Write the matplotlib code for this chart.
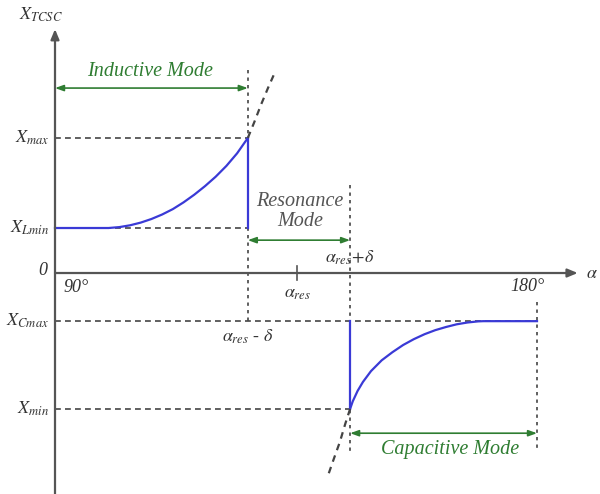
import matplotlib
matplotlib.use("Agg")
import matplotlib.pyplot as plt

plt.rcParams['mathtext.fontset'] = 'stix'
plt.rcParams['font.family'] = ['Liberation Serif', 'DejaVu Serif']

# --- key values (angle in degrees, reactance in arbitrary units) ---
alpha_start = 90
alpha_end = 180
alpha_res = 135.2
alpha_low = 126.0      # alpha_res - delta
alpha_high = 145.1     # alpha_res + delta
X_max = 3.0
X_Lmin = 1.0
X_Cmax = -1.07
X_min = -3.02

# inductive branch
ind_alpha = [90, 100, 102, 104, 106, 108, 110, 112, 114, 116, 118, 120, 122, 124, 126]
ind_X = [1.0, 1.0, 1.02, 1.06, 1.12, 1.2, 1.3, 1.42, 1.57, 1.74, 1.93, 2.14, 2.38, 2.66, 3.0]
ind_dash_alpha = [126, 127.2, 128.5, 129.8, 131.1]
ind_dash_X = [3.0, 3.35, 3.75, 4.12, 4.47]

# capacitive branch
cap_alpha = [145.1, 145.6, 146.5, 147.5, 149, 151, 153, 155, 157, 159, 161, 163, 165, 167, 169, 170, 180]
cap_X = [-3.02, -2.85, -2.62, -2.42, -2.18, -1.94, -1.76, -1.6, -1.47, -1.36, -1.27,
         -1.2, -1.14, -1.1, -1.075, -1.07, -1.07]
cap_dash_alpha = [145.1, 144.2, 143.2, 142.0, 140.8]
cap_dash_X = [-3.02, -3.35, -3.75, -4.15, -4.56]

fig = plt.figure(figsize=(6.0, 4.94), dpi=100)
ax = fig.add_axes([0, 0, 1, 1])
ax.set_xlim(79.73, 191.76)
ax.set_ylim(-4.911, 6.067)
ax.axis('off')

axis_col = '#555555'
dash_col = '#444444'
blue = '#3a3ad6'
green = '#2f7d32'
dash = dict(color=dash_col, lw=1.2, linestyle=(0, (3.5, 2.5)))
vdash = dict(color=dash_col, lw=1.2, linestyle=(0, (2, 2.5)))

# axes with arrows
ax.annotate('', xy=(alpha_start, 5.42), xytext=(alpha_start, -4.911),
            arrowprops=dict(arrowstyle='-|>,head_width=0.25,head_length=0.6',
                            color=axis_col, lw=1.6, shrinkA=0, shrinkB=0))
ax.annotate('', xy=(187.6, 0), xytext=(alpha_start, 0),
            arrowprops=dict(arrowstyle='-|>,head_width=0.25,head_length=0.6',
                            color=axis_col, lw=1.6, shrinkA=0, shrinkB=0))
# alpha_res tick
ax.plot([alpha_res, alpha_res], [-0.16, 0.16], color=axis_col, lw=1.2)

# dashed guide lines
ax.plot([alpha_start, alpha_low], [X_max, X_max], **dash)
ax.plot([alpha_start, alpha_low], [X_Lmin, X_Lmin], **dash)
ax.plot([alpha_start, alpha_end], [X_Cmax, X_Cmax], **dash)
ax.plot([alpha_start, alpha_high], [X_min, X_min], **dash)
ax.plot([alpha_low, alpha_low], [4.51, -1.11], **vdash)
ax.plot([alpha_high, alpha_high], [1.96, -3.98], **vdash)
ax.plot([alpha_end, alpha_end], [-0.64, -3.98], **vdash)

# curves
ax.plot(ind_alpha, ind_X, color=blue, lw=1.6, solid_joinstyle='round')
ax.plot([alpha_low, alpha_low], [X_max, X_Lmin], color=blue, lw=1.6)
ax.plot(ind_dash_alpha, ind_dash_X, color=dash_col, lw=1.6, linestyle=(0, (3, 2.5)))
ax.plot(cap_alpha, cap_X, color=blue, lw=1.6, solid_joinstyle='round')
ax.plot([alpha_high, alpha_high], [X_Cmax, X_min], color=blue, lw=1.6)
ax.plot(cap_dash_alpha, cap_dash_X, color=dash_col, lw=1.6, linestyle=(0, (3, 2.5)))

# mode arrows
def darrow(x0, x1, y, col):
    ax.annotate('', xy=(x1, y), xytext=(x0, y),
                arrowprops=dict(arrowstyle='<|-|>,head_width=0.18,head_length=0.5',
                                color=col, lw=1.2, shrinkA=0, shrinkB=0))

darrow(alpha_start, alpha_low, 4.11, green)
darrow(alpha_low, alpha_high, 0.73, green)
darrow(alpha_high, alpha_end, -3.56, green)

ax.text(107.7, 4.47, 'Inductive Mode', color=green, fontsize=14.5, style='italic',
        ha='center', va='center')
ax.text(135.7, 1.36, 'Resonance\nMode', color='#555555', fontsize=14.5, style='italic',
        ha='center', va='center', linespacing=1.05)
ax.text(163.7, -3.93, 'Capacitive Mode', color=green, fontsize=14.5, style='italic',
        ha='center', va='center')

# axis labels
lab = dict(color='#333333', fontsize=13)
ax.text(87.4, 5.73, r'$X_{TCSC}$', ha='center', va='center', **lab)
ax.text(88.6, 0.05, '0', ha='right', va='center', style='italic', **lab)
ax.text(93.9, -0.33, '90°', ha='center', va='center', style='italic', **lab)
ax.text(190.3, 0.0, r'$\alpha$', ha='center', va='center', **lab)
ax.text(178.3, -0.29, '180°', ha='center', va='center', style='italic', **lab)
ax.text(alpha_res, -0.46, r'$\alpha_{res}$', ha='center', va='center', **lab)
ax.text(alpha_low, -1.42, r'$\alpha_{res}$ - $\delta$', ha='center', va='center', **lab)
ax.text(alpha_high, 0.33, r'$\alpha_{res}\!+\!\delta$', ha='center', va='center', **lab)

ax.text(88.9, X_max, r'$X_{max}$', ha='right', va='center', **lab)
ax.text(88.9, X_Lmin, r'$X_{Lmin}$', ha='right', va='center', **lab)
ax.text(88.9, X_Cmax, r'$X_{Cmax}$', ha='right', va='center', **lab)
ax.text(88.9, X_min, r'$X_{min}$', ha='right', va='center', **lab)

fig.savefig('out.png', dpi=100)
